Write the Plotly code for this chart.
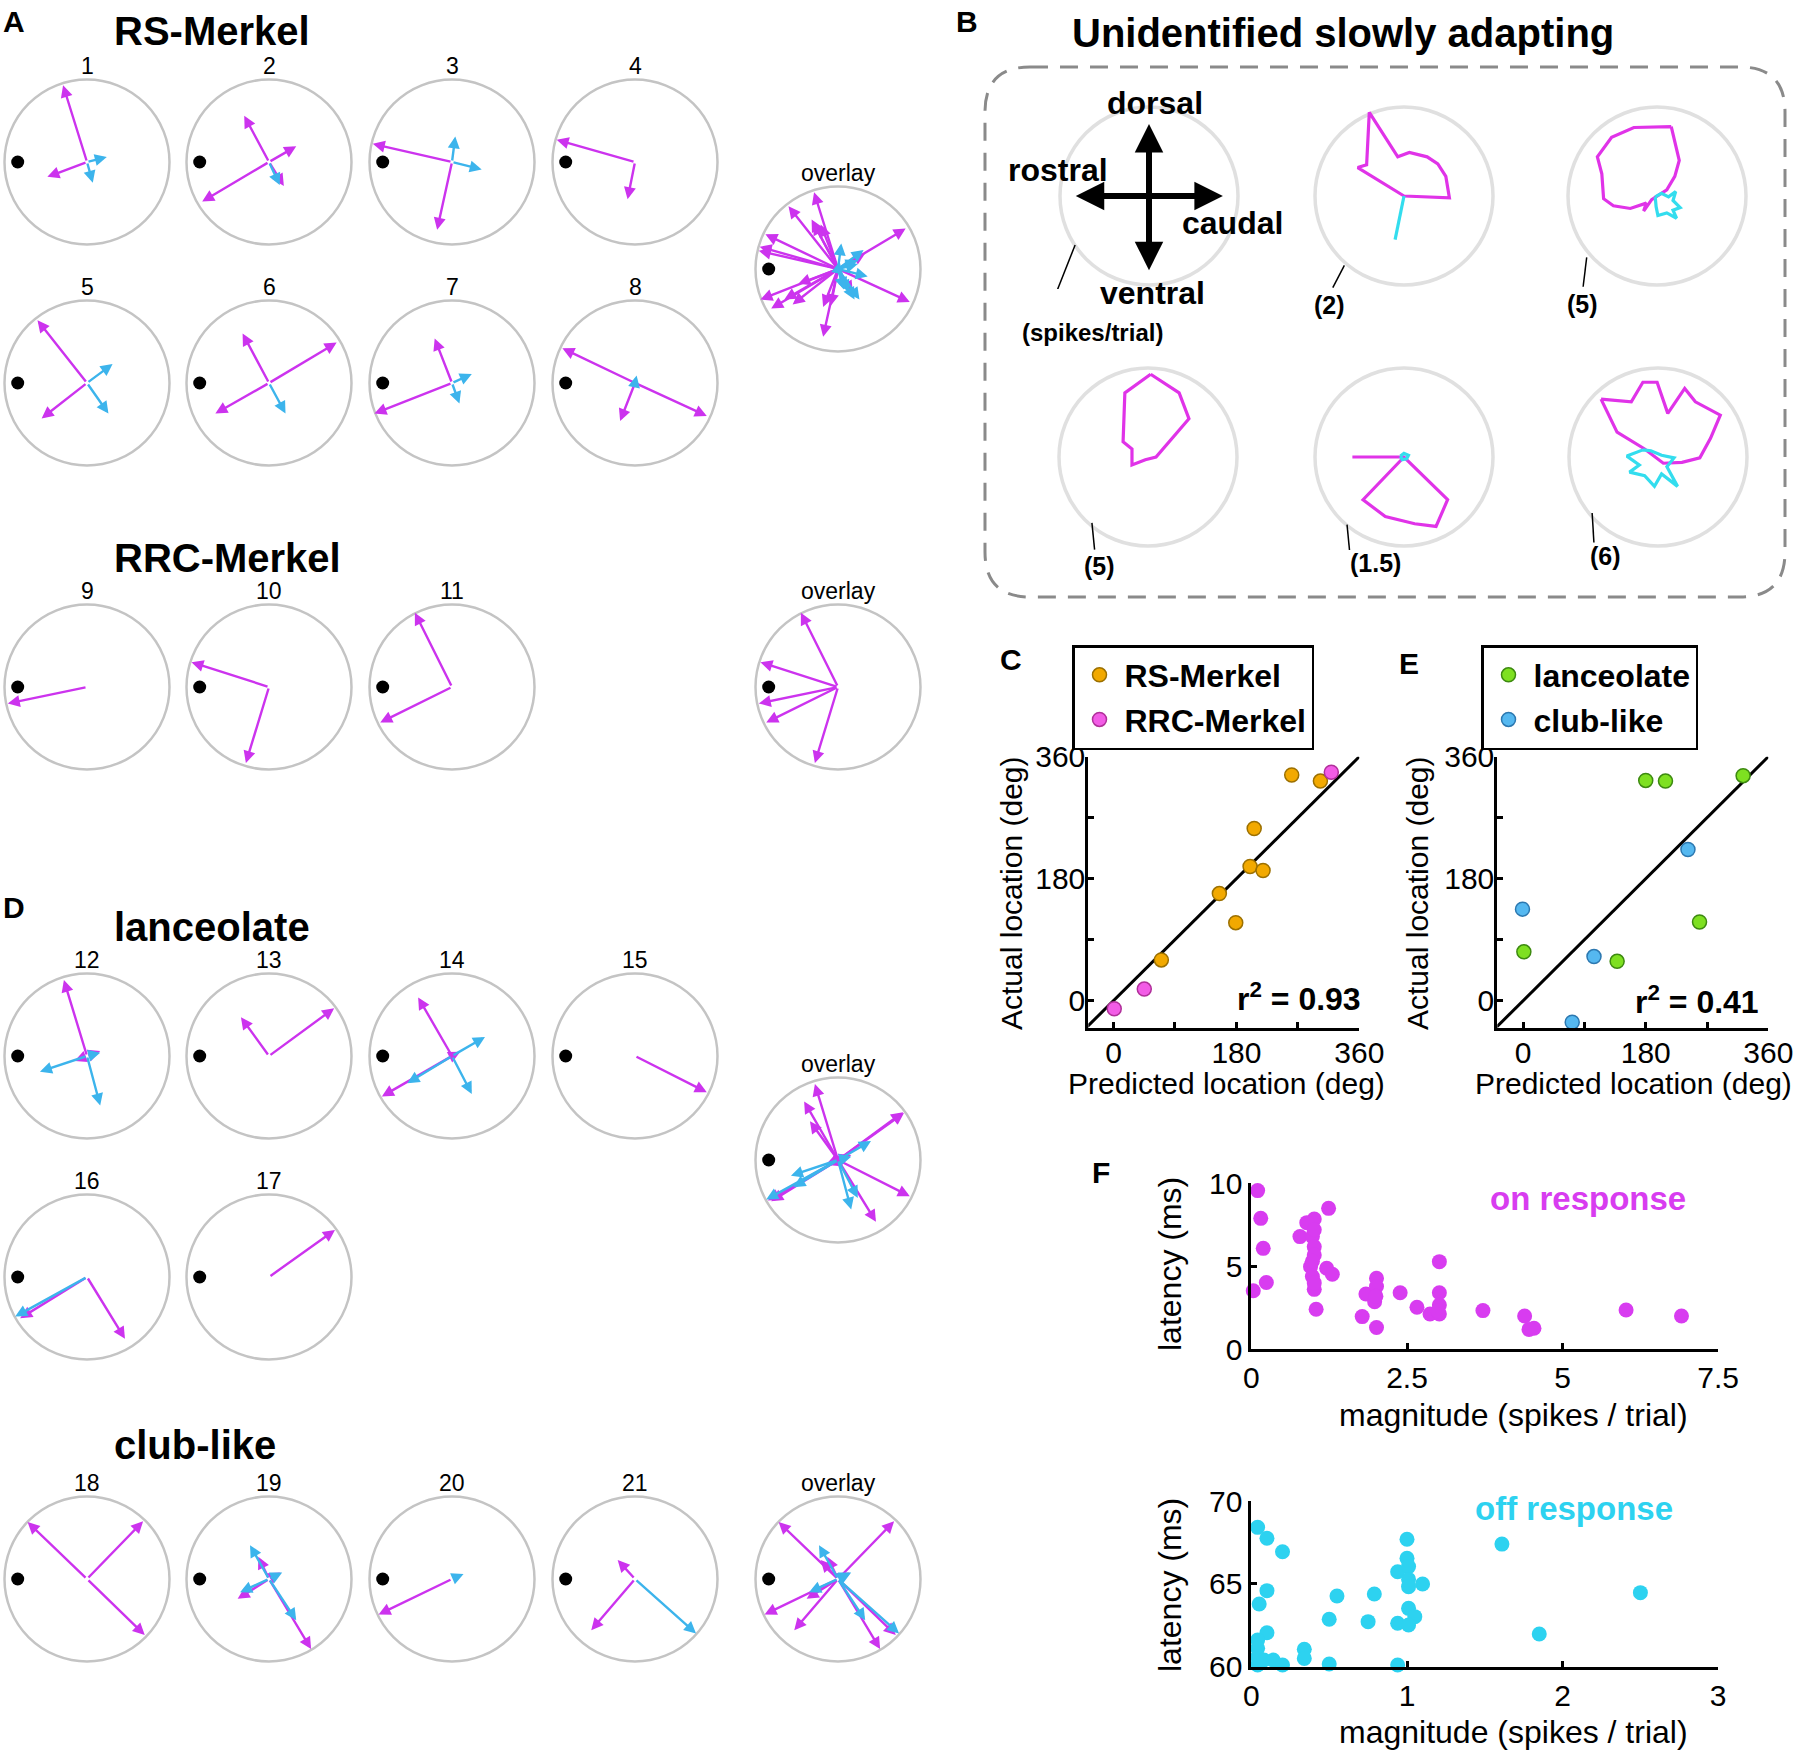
import plotly.graph_objects as go

W, H = 1800, 1751
FONT = "Liberation Sans, Arial, Helvetica, sans-serif"
MAGENTA = "#CC33EE"
SKY = "#3CB4EC"
POLAR_MAG = "#E033E8"
POLAR_CYAN = "#33DDEE"
RING_A = "#C4C4C4"
RING_B = "#E0E0E0"

# response vectors in units of circle radius (x -> caudal, y -> dorsal)
rs_ids = ["1", "2", "3", "4", "5", "6", "7", "8"]
rs_on = [
    [(-0.29, 0.93), (-0.48, -0.18)],
    [(-0.30, 0.56), (0.33, 0.19), (-0.81, -0.48), (0.18, -0.29)],
    [(-0.96, 0.22), (-0.18, -0.82)],
    [(-0.95, 0.27), (-0.09, -0.45)],
    [(-0.60, 0.76), (-0.55, -0.43)],
    [(-0.32, 0.60), (0.82, 0.49), (-0.65, -0.37)],
    [(-0.21, 0.54), (-0.94, -0.37)],
    [(-0.88, 0.42), (0.87, -0.40), (-0.18, -0.46)],
]
rs_off = [
    [(0.24, 0.06), (0.07, -0.25)],
    [(0.13, -0.28)],
    [(0.04, 0.31), (0.36, -0.09)],
    [],
    [(0.31, 0.23), (0.26, -0.37)],
    [(0.20, -0.37)],
    [(0.24, 0.11), (0.09, -0.25)],
    [(0.02, 0.09)],
]

rrc_ids = ["9", "10", "11"]
rrc_on = [
    [(-0.96, -0.20)],
    [(-0.94, 0.30), (-0.28, -0.92)],
    [(-0.45, 0.90), (-0.87, -0.43)],
]
rrc_off = [[], [], []]

lan_ids = ["12", "13", "14", "15", "16", "17"]
lan_on = [
    [(-0.28, 0.92), (-0.15, -0.06), (0.16, 0.06)],
    [(-0.34, 0.47), (0.79, 0.58)],
    [(-0.41, 0.71), (-0.85, -0.49), (0.10, 0.05)],
    [(0.87, -0.44)],
    [(-0.81, -0.50), (0.46, -0.75)],
    [(0.80, 0.57)],
]
lan_off = [
    [(-0.57, -0.19), (0.16, -0.60), (0.16, 0.04)],
    [],
    [(0.40, 0.23), (-0.54, -0.33), (0.24, -0.46)],
    [],
    [(-0.87, -0.48)],
    [],
]

club_ids = ["18", "19", "20", "21"]
club_on = [
    [(-0.72, 0.69), (0.70, -0.68), (0.68, 0.70)],
    [(-0.13, 0.27), (-0.38, -0.24), (0.51, -0.85), (0.14, 0.08)],
    [(-0.89, -0.43)],
    [(-0.21, 0.23), (-0.53, -0.62)],
]
club_off = [
    [],
    [(-0.23, 0.41), (-0.35, -0.16), (0.33, -0.50), (0.16, 0.08)],
    [(0.14, 0.06)],
    [(0.74, -0.66)],
]

# unidentified SA polar responses (unit = scale value in brackets)
b_scales = ["(2)", "(5)", "(5)", "(1.5)", "(6)"]
b_on = [
    [(0, 0), (0.51, -0.02), (0.47, 0.22), (0.38, 0.36), (0.26, 0.44), (0.06, 0.49),
     (-0.07, 0.44), (-0.39, 0.94), (-0.42, 0.35), (-0.52, 0.32), (0, 0)],
    [(0.16, 0.78), (-0.26, 0.77), (-0.51, 0.66), (-0.67, 0.44), (-0.62, 0.25), (-0.60, -0.03),
     (-0.49, -0.11), (-0.30, -0.14), (-0.12, -0.08), (-0.15, -0.17), (-0.06, -0.04),
     (0.11, 0.07), (0.20, 0.22), (0.25, 0.40), (0.16, 0.78)],
    [(0.03, 0.93), (-0.26, 0.72), (-0.28, 0.17), (-0.18, 0.09), (-0.18, -0.09), (-0.03, -0.03),
     (0.09, 0.00), (0.46, 0.43), (0.35, 0.72), (0.03, 0.93)],
    [(0, 0), (-0.58, 0.0), (0, 0), (0.49, -0.48), (0.36, -0.78), (0.12, -0.75), (-0.21, -0.67),
     (-0.46, -0.48), (0, 0)],
    [(-0.64, 0.65), (-0.30, 0.62), (-0.17, 0.84), (-0.01, 0.84), (0.11, 0.49), (0.30, 0.77),
     (0.42, 0.62), (0.70, 0.47), (0.59, 0.21), (0.47, -0.01), (0.27, -0.06), (0.06, -0.07),
     (-0.15, 0.09), (-0.46, 0.28), (-0.64, 0.65)],
]
b_off = [
    [(0, 0), (-0.10, -0.49)],
    [(-0.02, -0.01), (0.05, 0.03), (0.13, -0.01), (0.21, 0.05), (0.18, -0.05), (0.26, -0.13),
     (0.18, -0.16), (0.22, -0.25), (0.11, -0.19), (0.01, -0.22), (-0.01, -0.12), (-0.02, -0.01)],
    [],
    [(-0.04, 0.01), (0.0, 0.04), (0.05, 0.02), (0.03, -0.02), (-0.02, -0.03), (-0.04, 0.01)],
    [(-0.17, 0.08), (-0.35, 0.01), (-0.21, -0.09), (-0.32, -0.17), (-0.15, -0.21), (-0.04, -0.33),
     (0.04, -0.19), (0.22, -0.33), (0.10, -0.11), (0.18, -0.01), (0.04, 0.02), (-0.08, 0.07),
     (-0.17, 0.08)],
]

# C / E: predicted vs actual location (deg)
rs_pred = [261, 303, 206, 200, 219, 155, 179, 70]
rs_act = [333, 324, 254, 198, 192, 158, 115, 60]
rrc_pred = [319, 45, 1]
rrc_act = [337, 17, -12]
lan_pred = [180, 209, 323, 259, 1, 138]
lan_act = [325, 324, 332, 116, 72, 58]
club_pred = [242, -1, 104, 72]
club_act = [223, 135, 65, -32]
r2_c = "0.93"
r2_e = "0.41"

# F: latency vs magnitude
on_mag = [0.10, 0.15, 0.19, 0.24, 0.03, 1.24, 1.01, 0.89, 0.78, 0.98, 1.01, 1.01, 0.95, 0.98,
          1.21, 1.30, 1.01, 1.04, 1.84, 2.01, 2.01, 1.98, 1.78, 2.01, 2.39, 2.66, 2.87, 3.02,
          3.02, 3.02, 3.02, 3.72, 4.39, 4.54, 4.46, 6.02, 6.91, 1.01, 1.01, 0.98, 2.00, 3.00]
on_lat = [9.56, 7.89, 6.08, 4.02, 3.53, 8.49, 7.85, 7.63, 6.79, 6.79, 6.18, 5.68, 4.98, 4.38,
          4.88, 4.52, 3.61, 2.41, 3.33, 4.28, 3.78, 2.87, 1.97, 1.31, 3.41, 2.53, 2.13, 5.28,
          3.41, 2.67, 2.13, 2.33, 2.01, 1.27, 1.20, 2.37, 2.01, 7.20, 4.00, 5.30, 3.20, 2.30]
off_mag = [0.04, 0.10, 0.20, 0.10, 0.05, 0.10, 0.04, 0.04, 0.04, 0.04, 0.08, 0.14, 0.20, 0.34,
           0.34, 0.50, 0.50, 0.55, 0.75, 0.79, 0.94, 0.94, 1.00, 1.00, 1.01, 1.01, 1.01, 1.10,
           1.01, 1.05, 0.94, 1.01, 1.61, 1.85, 2.50]
off_lat = [68.41, 67.75, 66.94, 64.59, 63.78, 62.05, 61.61, 61.11, 60.60, 60.10, 60.40, 60.40,
           60.10, 61.05, 60.50, 60.16, 62.86, 64.27, 62.72, 64.39, 60.10, 65.73, 67.69, 66.54,
           66.04, 65.27, 64.83, 64.99, 63.52, 63.02, 62.62, 62.52, 67.40, 61.97, 64.47]


def px(x):
    return x / W


def py(y):
    return 1 - y / H


fig = go.Figure()
n_axes = 0


def add_axes(x0, x1, y0, y1, xopts, yopts):
    # x0..x1, y0..y1 in pixels (y downwards)
    global n_axes
    n_axes += 1
    s = "" if n_axes == 1 else str(n_axes)
    xa = dict(domain=[px(x0), px(x1)], anchor="y" + s, automargin=False, **xopts)
    ya = dict(domain=[py(y1), py(y0)], anchor="x" + s, automargin=False, **yopts)
    fig.update_layout({"xaxis" + s: xa, "yaxis" + s: ya})
    return "x" + s, "y" + s


def panel_axes(cx, cy, radius, pad=4):
    half = radius + pad
    lim = half / radius
    hidden = dict(range=[-lim, lim], visible=False, fixedrange=True)
    return add_axes(cx - half, cx + half, cy - half, cy + half, hidden, dict(hidden))


def text(x, y, s, size, bold=False, color="black", anchor="center", angle=0):
    fig.add_annotation(x=px(x), y=py(y), xref="paper", yref="paper", text=s, showarrow=False,
                       xanchor=anchor, yanchor="middle", textangle=angle,
                       font=dict(size=size, color=color, family=FONT,
                                 weight="bold" if bold else "normal"))


R_A = 82.5


def vector_panel(cx, cy, label, on, off):
    xa, ya = panel_axes(cx, cy, R_A)
    fig.add_shape(type="circle", xref=xa, yref=ya, x0=-1, y0=-1, x1=1, y1=1,
                  line=dict(color=RING_A, width=2.5), layer="below")
    fig.add_trace(go.Scatter(x=[-0.84], y=[0], xaxis=xa, yaxis=ya, mode="markers",
                             marker=dict(size=13, color="black"), showlegend=False,
                             hoverinfo="skip"))
    for color, vecs in ((MAGENTA, on), (SKY, off)):
        for dx, dy in vecs:
            fig.add_annotation(xref=xa, yref=ya, axref=xa, ayref=ya, x=dx, y=dy, ax=0, ay=0,
                               text="", showarrow=True, arrowhead=2, arrowsize=1.0,
                               arrowwidth=2.4, arrowcolor=color, standoff=0)
    text(cx, cy - 96, label, 23)


def group(ids, on, off, spots, overlay_spot):
    for i, (cx, cy) in enumerate(spots):
        vector_panel(cx, cy, ids[i], on[i], off[i])
    all_on = [v for lst in on for v in lst]
    all_off = [v for lst in off for v in lst]
    vector_panel(overlay_spot[0], overlay_spot[1], "overlay", all_on, all_off)


cols = [87, 269, 452, 635]
OVX = 838

# ---- A: RS-Merkel and RRC-Merkel ----
text(14, 21, "A", 30, bold=True)
text(112, 31, "RS-Merkel", 40, bold=True, anchor="left")
group(rs_ids, rs_on, rs_off, [(c, 162) for c in cols] + [(c, 383) for c in cols], (OVX, 269))
text(112, 558, "RRC-Merkel", 40, bold=True, anchor="left")
group(rrc_ids, rrc_on, rrc_off, [(c, 687) for c in cols[:3]], (OVX, 687))

# ---- D: lanceolate and club-like ----
text(14, 907, "D", 30, bold=True)
text(112, 927, "lanceolate", 40, bold=True, anchor="left")
group(lan_ids, lan_on, lan_off, [(c, 1056) for c in cols] + [(c, 1277) for c in cols[:2]],
      (OVX, 1160))
text(112, 1445, "club-like", 40, bold=True, anchor="left")
group(club_ids, club_on, club_off, [(c, 1579) for c in cols], (OVX, 1579))

# ---- B: unidentified slowly adapting ----
text(967, 22, "B", 30, bold=True)
text(1343, 33, "Unidentified slowly adapting", 40, bold=True)


def rounded_rect(x0, y0, x1, y1, r):
    def p(x, y):
        return f"{px(x):.5f},{py(y):.5f}"
    return (f"M{p(x0 + r, y0)} L{p(x1 - r, y0)} Q{p(x1, y0)} {p(x1, y0 + r)} "
            f"L{p(x1, y1 - r)} Q{p(x1, y1)} {p(x1 - r, y1)} L{p(x0 + r, y1)} "
            f"Q{p(x0, y1)} {p(x0, y1 - r)} L{p(x0, y0 + r)} Q{p(x0, y0)} {p(x0 + r, y0)} Z")


fig.add_shape(type="path", xref="paper", yref="paper", path=rounded_rect(985, 67, 1785, 597, 45),
              line=dict(color="#8A8A8A", width=3, dash="18px,12px"))

R_B = 89
# compass
xa, ya = panel_axes(1149, 196, R_B)
fig.add_shape(type="circle", xref=xa, yref=ya, x0=-1, y0=-1, x1=1, y1=1,
              line=dict(color=RING_B, width=3.5), layer="below")
for (x0, y0, x1, y1) in [(0, -0.85, 0, 0.81), (-0.84, 0, 0.83, 0)]:
    fig.add_annotation(xref=xa, yref=ya, axref=xa, ayref=ya, x=x1, y=y1, ax=x0, ay=y0, text="",
                       showarrow=True, arrowside="end+start", arrowhead=2, startarrowhead=2,
                       arrowsize=0.95, startarrowsize=0.95, arrowwidth=6, arrowcolor="black",
                       standoff=0, startstandoff=0)
fig.add_shape(type="line", xref=xa, yref=ya, x0=-0.83, y0=-0.55, x1=-1.15, y1=-1.36,
              line=dict(color="black", width=1.5))
text(1155, 103, "dorsal", 32, bold=True)
text(1058, 170, "rostral", 32, bold=True)
text(1232, 223, "caudal", 32, bold=True)
text(1152, 293, "ventral", 32, bold=True)
text(1092, 332, "(spikes/trial)", 24, bold=True)

b_spots = [(1404, 196), (1657, 196), (1148, 457), (1404, 457), (1658, 457)]
b_leads = [(-0.67, -0.78, -0.80, -1.03), (-0.79, -0.69, -0.83, -1.02),
           (-0.63, -0.74, -0.60, -1.04), (-0.64, -0.76, -0.61, -1.07),
           (-0.74, -0.63, -0.72, -0.96)]
b_label_pos = [(1329, 305), (1582, 304), (1099, 566), (1375, 563), (1605, 556)]
for i, (cx, cy) in enumerate(b_spots):
    xa, ya = panel_axes(cx, cy, R_B)
    fig.add_shape(type="circle", xref=xa, yref=ya, x0=-1, y0=-1, x1=1, y1=1,
                  line=dict(color=RING_B, width=3.5), layer="below")
    for color, pts in ((POLAR_MAG, b_on[i]), (POLAR_CYAN, b_off[i])):
        if pts:
            fig.add_trace(go.Scatter(x=[p[0] for p in pts], y=[p[1] for p in pts], xaxis=xa,
                                     yaxis=ya, mode="lines", line=dict(color=color, width=3.2),
                                     showlegend=False, hoverinfo="skip"))
    lx0, ly0, lx1, ly1 = b_leads[i]
    fig.add_shape(type="line", xref=xa, yref=ya, x0=lx0, y0=ly0, x1=lx1, y1=ly1,
                  line=dict(color="black", width=1.5))
    text(b_label_pos[i][0], b_label_pos[i][1], b_scales[i], 25, bold=True)

# ---- C / E scatter ----
TICKFONT = dict(size=30, family=FONT, color="black")


def axis_style(rng, tickvals, ticktext, shift=0):
    return dict(range=rng, tickvals=tickvals, ticktext=ticktext, ticks="inside", ticklen=6,
                tickwidth=2.5, tickcolor="black", showline=True, linewidth=3, linecolor="black",
                showgrid=False, zeroline=False, tickfont=TICKFONT, fixedrange=True,
                ticklabelstandoff=shift)


deg_vals = [0, 90, 180, 270, 360]
deg_text = ["0", "", "180", "", "360"]

text(1011, 660, "C", 30, bold=True)
xa, ya = add_axes(1088.3, 1359.3, 756.7, 1027.7,
                  axis_style([-37, 360], deg_vals, deg_text, -4),
                  axis_style([-40, 360], deg_vals, deg_text, -6))
fig.add_trace(go.Scatter(x=[-40, 360], y=[-40, 360], xaxis=xa, yaxis=ya, mode="lines",
                         line=dict(color="black", width=3), showlegend=False, hoverinfo="skip"))
fig.add_trace(go.Scatter(x=rs_pred, y=rs_act, xaxis=xa, yaxis=ya, mode="markers",
                         name="RS-Merkel", legend="legend", cliponaxis=False,
                         marker=dict(size=14, color="#F2A900", line=dict(color="#9C7000", width=1.5))))
fig.add_trace(go.Scatter(x=rrc_pred, y=rrc_act, xaxis=xa, yaxis=ya, mode="markers",
                         name="RRC-Merkel", legend="legend", cliponaxis=False,
                         marker=dict(size=14, color="#F25CE6", line=dict(color="#B0309A", width=1.5))))
text(1226, 1083, "Predicted location (deg)", 30)
text(1011, 893, "Actual location (deg)", 30, angle=-90)
text(1363, 997, f"r<sup>2</sup> = {r2_c}", 32, bold=True, anchor="right")

text(1409, 663, "E", 30, bold=True)
xa, ya = add_axes(1497.3, 1768.3, 756.7, 1027.7,
                  axis_style([-38, 360], deg_vals, deg_text, -4),
                  axis_style([-40, 360], deg_vals, deg_text, -6))
fig.add_trace(go.Scatter(x=[-40, 360], y=[-40, 360], xaxis=xa, yaxis=ya, mode="lines",
                         line=dict(color="black", width=3), showlegend=False, hoverinfo="skip"))
fig.add_trace(go.Scatter(x=lan_pred, y=lan_act, xaxis=xa, yaxis=ya, mode="markers",
                         name="lanceolate", legend="legend2", cliponaxis=False,
                         marker=dict(size=14, color="#7EE021", line=dict(color="#3D8A10", width=1.5))))
fig.add_trace(go.Scatter(x=club_pred, y=club_act, xaxis=xa, yaxis=ya, mode="markers",
                         name="club-like", legend="legend2", cliponaxis=False,
                         marker=dict(size=14, color="#55B8F0", line=dict(color="#2C78B0", width=1.5))))
text(1633, 1083, "Predicted location (deg)", 30)
text(1417, 893, "Actual location (deg)", 30, angle=-90)
text(1761, 1000, f"r<sup>2</sup> = {r2_e}", 32, bold=True, anchor="right")

legend_style = dict(xanchor="left", yanchor="top", bgcolor="white", bordercolor="black",
                    borderwidth=2.5, font=dict(size=32, family=FONT, color="black", weight="bold"),
                    itemsizing="trace", tracegroupgap=0, itemwidth=40)
fig.update_layout(legend=dict(x=px(1072), y=py(645), entrywidth=196, **legend_style),
                  legend2=dict(x=px(1481), y=py(645), entrywidth=192, **legend_style))

# ---- F: latency vs magnitude ----
text(1101, 1172, "F", 30, bold=True)
xa, ya = add_axes(1251.4, 1718.2, 1183.3, 1349.3,
                  axis_style([0, 7.5], [0, 2.5, 5, 7.5], ["0", "2.5", "5", "7.5"]),
                  axis_style([0, 10], [0, 5, 10], ["0", "5", "10"]))
fig.add_trace(go.Scatter(x=on_mag, y=on_lat, xaxis=xa, yaxis=ya, mode="markers",
                         cliponaxis=False, showlegend=False,
                         marker=dict(size=15, color="#D83CF0")))
text(1513, 1415, "magnitude (spikes / trial)", 32)
text(1170, 1264, "latency (ms)", 32, angle=-90)
text(1588, 1198, "on response", 33, bold=True, color="#D83CF0")

xa, ya = add_axes(1251.4, 1718.2, 1501, 1666.7,
                  axis_style([0, 3], [0, 1, 2, 3], ["0", "1", "2", "3"]),
                  axis_style([60, 70], [60, 65, 70], ["60", "65", "70"]))
fig.add_trace(go.Scatter(x=off_mag, y=off_lat, xaxis=xa, yaxis=ya, mode="markers",
                         cliponaxis=False, showlegend=False,
                         marker=dict(size=15, color="#2DD2F0")))
text(1513, 1732, "magnitude (spikes / trial)", 32)
text(1170, 1585, "latency (ms)", 32, angle=-90)
text(1574, 1508, "off response", 33, bold=True, color="#2DD2F0")

fig.update_layout(width=W, height=H, margin=dict(l=0, r=0, t=0, b=0, autoexpand=False),
                  paper_bgcolor="white", plot_bgcolor="white",
                  font=dict(family=FONT, color="black"), showlegend=True)

fig.write_html("out.html", config={"displayModeBar": False},
               post_script="document.body.style.margin = '0px';")
